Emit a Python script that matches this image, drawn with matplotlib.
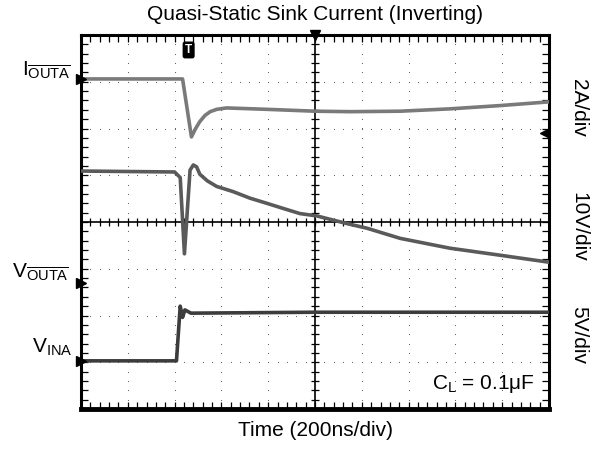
import numpy as np
import matplotlib
matplotlib.use("Agg")
import matplotlib.pyplot as plt

plt.rcParams['font.family'] = ['Liberation Sans', 'DejaVu Sans']
plt.rcParams['mathtext.fontset'] = 'custom'
plt.rcParams['mathtext.rm'] = 'Liberation Sans'
plt.rcParams['mathtext.it'] = 'Liberation Sans'

# ---- data (time in divisions of 200 ns, levels in screen divisions) ----
i_out_t = [0.0, 2.17, 2.36, 2.45, 2.54, 2.65, 2.76, 2.90, 3.11, 3.97, 5.0, 5.75, 6.82, 7.88, 8.95, 10.0]
i_out_y = [7.06, 7.06, 5.82, 6.00, 6.15, 6.28, 6.36, 6.41, 6.44, 6.41, 6.37, 6.36, 6.37, 6.42, 6.49, 6.57]

v_out_t = [0.0, 2.0, 2.12, 2.21, 2.33, 2.40, 2.47, 2.54, 2.70, 2.90, 3.25, 3.61, 3.97,
           4.32, 4.68, 5.04, 5.39, 5.75, 6.10, 6.82, 7.88, 8.95, 10.0]
v_out_y = [5.09, 5.07, 4.95, 3.32, 5.11, 5.22, 5.18, 5.02, 4.88, 4.76, 4.65, 4.51, 4.40,
           4.29, 4.18, 4.13, 4.04, 3.95, 3.87, 3.65, 3.44, 3.29, 3.14]

v_in_t = [0.0, 2.04, 2.12, 2.17, 2.22, 2.35, 5.0, 10.0]
v_in_y = [1.03, 1.03, 2.20, 1.96, 2.12, 2.05, 2.07, 2.07]

ch_marker_y = [7.06, 2.70, 1.03]   # channel ground reference arrows (left edge)
trig_level_y = 5.90                 # trigger level arrow (right edge)

n_xdiv, n_ydiv = 10, 8

fig = plt.figure(figsize=(6.02, 4.5), dpi=100)
ax = fig.add_axes([81/602, 41/450, 468/602, 374/450])
ax.set_xlim(0, n_xdiv)
ax.set_ylim(0, n_ydiv)

# dotted graticule
sub = np.arange(0.2, n_ydiv, 0.2)
for gx in range(1, n_xdiv):
    if gx != 5:
        ax.plot(np.full_like(sub, gx), sub, ls='', marker='s', ms=0.75, mew=0, color='#666666', zorder=1)
subx = np.arange(0.2, n_xdiv, 0.2)
for gy in range(1, n_ydiv):
    if gy != 4:
        ax.plot(subx, np.full_like(subx, gy), ls='', marker='s', ms=0.75, mew=0, color='#666666', zorder=1)

# center cross
ax.axhline(4, color='black', lw=1.2, zorder=2)
ax.axvline(5, color='black', lw=1.2, zorder=2)
ax.plot(subx, np.full_like(subx, 4), ls='', marker='|', ms=6, mew=0.9, color='black', zorder=2)
ax.plot(np.full_like(sub, 5), sub, ls='', marker='_', ms=6, mew=0.9, color='black', zorder=2)

# traces
ax.plot(i_out_t, i_out_y, color='#7a7a7a', lw=2.6, zorder=3, solid_joinstyle='round')
ax.plot(v_out_t, v_out_y, color='#5a5a5a', lw=2.6, zorder=3, solid_joinstyle='round')
ax.plot(v_in_t, v_in_y, color='#3c3c3c', lw=2.6, zorder=3, solid_joinstyle='round')

# border ticks
ax.set_xticks(np.arange(0, n_xdiv + 0.01, 0.2))
ax.set_yticks(np.arange(0, n_ydiv + 0.01, 0.2))
ax.tick_params(direction='in', length=5, width=0.9, top=True, right=True,
               labelbottom=False, labelleft=False)
for s in ax.spines.values():
    s.set_linewidth(2.2)
ax.spines['bottom'].set_linewidth(3.5)

# markers
for my in ch_marker_y:
    ax.plot([0.0], [my], marker='>', ms=7, color='black', clip_on=False, zorder=5)
ax.plot([5.0], [8.0], marker='v', ms=7, color='black', clip_on=False, zorder=5)
ax.plot([9.9], [trig_level_y], marker='<', ms=6, color='black', clip_on=False, zorder=5)
ax.text(2.3, 7.68, 'T', color='white', fontsize=8.5, fontweight='bold', ha='center', va='center',
        bbox=dict(boxstyle='round,pad=0.15', fc='black', ec='black'), zorder=6)

# texts
fig.text(315/602, 1 - 15/450, 'Quasi-Static Sink Current (Inverting)', ha='center', va='center', fontsize=15)
fig.text(315/602, 1 - 430/450, 'Time (200ns/div)', ha='center', va='center', fontsize=15)

fig.text(22/602, 1 - 75/450, r'$\mathrm{I}_{\overline{\mathrm{OUTA}}}$', ha='left', va='baseline', fontsize=15)
fig.text(12/602, 1 - 277/450, r'$\mathrm{V}_{\overline{\mathrm{OUTA}}}$', ha='left', va='baseline', fontsize=15)
fig.text(32/602, 1 - 353/450, r'$\mathrm{V}_{\mathrm{INA}}$', ha='left', va='baseline', fontsize=15)

fig.text(579/602, 1 - 108/450, '2A/div', rotation=-90, ha='center', va='center', fontsize=15)
fig.text(579/602, 1 - 227/450, '10V/div', rotation=-90, ha='center', va='center', fontsize=15)
fig.text(579/602, 1 - 335/450, '5V/div', rotation=-90, ha='center', va='center', fontsize=15)

fig.text(535/602, 1 - 389/450, r'$\mathrm{C}_{\mathrm{L}}$ = 0.1μF', ha='right', va='baseline', fontsize=15)

fig.savefig('out.png', dpi=100)
